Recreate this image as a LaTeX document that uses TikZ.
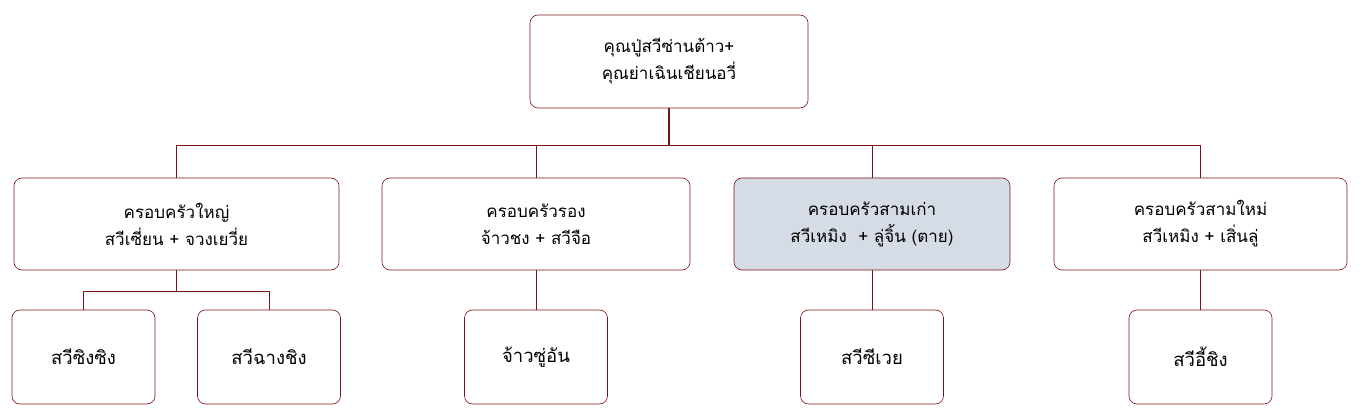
\documentclass[tikz,border=0pt]{standalone}
\usepackage{fontspec}
\newfontfamily\thaifont[Script=Thai]{Loma}
\usetikzlibrary{positioning}
\usetikzlibrary{calc, backgrounds}
\definecolor{treered}{RGB}{122,20,22}
\definecolor{deadfill}{RGB}{214,220,229}

\begin{document}
\begin{tikzpicture}[node distance=133pt,semithick,font=\thaifont\fontsize{17}{27}\selectfont]
 \tikzstyle{family node}=[rectangle,draw=treered,rounded corners=8pt,align=center,minimum height=92pt,inner sep=2pt]
 \tikzstyle{child node}=[family node,minimum width=143pt,minimum height=94pt,font=\thaifont\fontsize{18.5}{27}\selectfont]
 \tikzset{
 	dead node/.style={family node,fill=deadfill},
 	tree edge/.style={draw=treered,line width=1pt},
 	root edge/.style={draw=treered,line width=1.8pt}
 }
 \useasboundingbox (0,0) rectangle (1364pt,-419pt);

       \node[family node,minimum width=278pt,minimum height=93pt] (top) at (669pt,-61.5pt) {คุณปู่สวีซ่านต้าว+\\คุณย่าเฉินเชียนอวี่};

       \node[family node,minimum width=325pt] (A) at (176.5pt,-224pt) {ครอบครัวใหญ่\\สวีเซี่ยน + จวงเยวี่ย};
       \node[family node,minimum width=308pt] (B) at (536pt,-224pt) {ครอบครัวรอง\\จ้าวชง + สวีจือ};
       \node[dead node,minimum width=276pt] (C) at (872pt,-224pt) {ครอบครัวสามเก่า\\สวีเหมิง~~+ ลู่จิ้น (ตาย)};
       \node[family node,minimum width=293pt] (D) at (1200.5pt,-224pt) {ครอบครัวสามใหม่\\สวีเหมิง + เสิ่นลู่};

       \node[child node] (A1) [below of=A,xshift=-93pt] {สวีซิงซิง};
       \node[child node] (A2) [below of=A,xshift=92.5pt] {สวีฉางชิง};
       \node[child node] (B1) [below of=B] {จ้าวซู่อัน};
       \node[child node] (C1) [below of=C] {สวีซีเวย};
       \node[child node] (D1) [below of=D] {สวีอี้ชิง};

       \coordinate (bus) at ($(top.south)+(0,-37pt)$);
       \coordinate (abus) at ($(A.south)+(0,-21pt)$);

     \draw[root edge] (top.south) -- (bus);
     \draw[tree edge] (A.north) |- (bus) -| (D.north);
     \draw[tree edge] (B.north) -- (B.north |- bus);
     \draw[tree edge] (C.north) -- (C.north |- bus);

     \draw[tree edge] (A.south) -- (abus);
     \draw[tree edge] (A1.north) |- (abus) -| (A2.north);
     \draw[tree edge] (B.south) -- (B1.north);
     \draw[tree edge] (C.south) -- (C1.north);
     \draw[tree edge] (D.south) -- (D1.north);
 \end{tikzpicture}
\end{document}
